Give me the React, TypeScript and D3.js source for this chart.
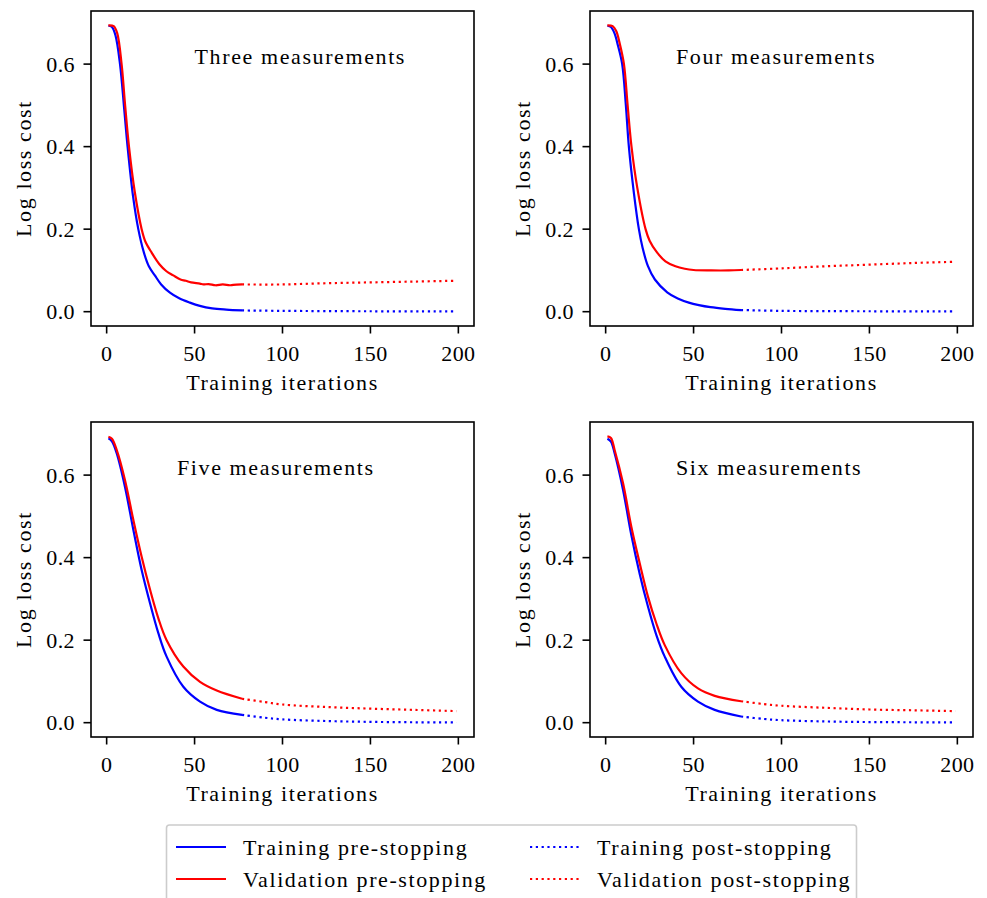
import React from "react";
import * as d3 from "d3";

const xTicks = [0, 50, 100, 150, 200];
const yTicks = [0, 0.2, 0.4, 0.6];

const panelTitles = ["Three measurements", "Four measurements", "Five measurements", "Six measurements"];
const titleIters = [50, 40, 40, 40];

const legendLabels = [
  "Training pre-stopping",
  "Validation pre-stopping",
  "Training post-stopping",
  "Validation post-stopping",
];

// [iteration, log loss]
const threeTrainPre = [
  [1, 0.693], [3, 0.69], [5, 0.67], [7.6, 0.6], [10, 0.49], [11.9, 0.4], [15, 0.28], [18, 0.2],
  [21.2, 0.143], [24, 0.11], [27.4, 0.088], [31, 0.066], [36, 0.046], [41, 0.033], [47.3, 0.022],
  [53, 0.014], [60, 0.008], [68, 0.005], [77, 0.003],
];
const threeTrainPost = [[77, 0.003], [100, 0.002], [150, 0.001], [199, 0.0005]];
const threeValPre = [
  [1, 0.694], [4, 0.692], [6, 0.675], [8.5, 0.6], [10.5, 0.5], [12.7, 0.4], [16, 0.29], [19.9, 0.2],
  [22, 0.17], [25.6, 0.143], [30, 0.115], [34, 0.098], [37.9, 0.088], [42, 0.078], [45, 0.075],
  [48, 0.071], [53, 0.068], [55, 0.066], [58, 0.067], [62, 0.064], [66, 0.066], [70, 0.064],
  [72, 0.065], [77, 0.066],
];
const threeValPost = [[77, 0.066], [100, 0.066], [125, 0.069], [150, 0.071], [175, 0.073], [199, 0.075]];

const fourTrainPre = [
  [1, 0.693], [3, 0.69], [5, 0.675], [7, 0.645], [9.4, 0.6], [11.5, 0.5], [13.2, 0.4], [16, 0.29],
  [18.9, 0.2], [21, 0.155], [24, 0.111], [28, 0.078], [35, 0.047], [41, 0.032], [47.3, 0.022],
  [53, 0.016], [59.6, 0.011], [68, 0.007], [77, 0.004],
];
const fourTrainPost = [[77, 0.004], [100, 0.002], [150, 0.001], [199, 0.0005]];
const fourValPre = [
  [1, 0.694], [4, 0.692], [6, 0.68], [8, 0.65], [10.4, 0.6], [12.5, 0.5], [14.7, 0.4], [18, 0.3],
  [22.7, 0.2], [25, 0.172], [29.3, 0.143], [34, 0.122], [39.7, 0.11], [45, 0.104], [50, 0.101],
  [60, 0.1], [70, 0.1], [77, 0.101],
];
const fourValPost = [[77, 0.101], [100, 0.105], [125, 0.11], [150, 0.114], [175, 0.118], [199, 0.121]];

const fiveTrainPre = [
  [1, 0.689], [3, 0.682], [5.7, 0.653], [10.4, 0.572], [15.2, 0.467], [19.9, 0.37], [24.7, 0.289],
  [29.4, 0.217], [34.1, 0.16], [43.6, 0.087], [53.1, 0.051], [62.6, 0.031], [77, 0.019],
];
const fiveTrainPost = [[77, 0.019], [90, 0.012], [100, 0.008], [125, 0.004], [150, 0.002], [175, 0.001], [199, 0.0005]];
const fiveValPre = [
  [1, 0.693], [3, 0.688], [5.7, 0.661], [10.4, 0.588], [15.2, 0.491], [19.9, 0.402], [24.7, 0.322],
  [29.4, 0.253], [34.1, 0.2], [43.6, 0.136], [53.1, 0.099], [62.6, 0.078], [77, 0.058],
];
const fiveValPost = [[77, 0.058], [90, 0.05], [100, 0.044], [125, 0.038], [150, 0.034], [175, 0.031], [199, 0.028]];

const sixTrainPre = [
  [1, 0.688], [3, 0.681], [5.1, 0.653], [9.9, 0.564], [14.6, 0.455], [19.4, 0.36], [24.1, 0.281],
  [28.8, 0.213], [33.6, 0.16], [43, 0.087], [52.5, 0.051], [62, 0.031], [77, 0.015],
];
const sixTrainPost = [[77, 0.015], [90, 0.009], [100, 0.006], [125, 0.003], [150, 0.0015], [175, 0.001], [199, 0.0005]];
const sixValPre = [
  [1, 0.694], [3, 0.69], [5.1, 0.661], [9.9, 0.58], [14.6, 0.475], [19.4, 0.386], [24.1, 0.305],
  [28.8, 0.241], [33.6, 0.188], [43, 0.12], [52.5, 0.083], [62, 0.065], [77, 0.052],
];
const sixValPost = [[77, 0.052], [90, 0.045], [100, 0.041], [125, 0.036], [150, 0.032], [175, 0.03], [199, 0.028]];

const panelSeries = [
  [threeTrainPre, threeValPre, threeTrainPost, threeValPost],
  [fourTrainPre, fourValPre, fourTrainPost, fourValPost],
  [fiveTrainPre, fiveValPre, fiveTrainPost, fiveValPost],
  [sixTrainPre, sixValPre, sixTrainPost, sixValPost],
];

const W = 987;
const H = 898;
const font = "'Liberation Serif', 'Times New Roman', serif";
const fs = 22;
const wordSpacing = 1.6;
const axW = 383;
const axH = 315;
const origins = [
  [91, 11],
  [590, 11],
  [91, 422],
  [590, 422],
];
const seriesColor = ["#0000ff", "#ff0000", "#0000ff", "#ff0000"];
const dotted = "2.2,3.6";

function Panel({ idx }: { idx: number }) {
  const [ox, oy] = origins[idx];
  const x = d3.scaleLinear().domain([-8.9, 208.9]).range([0, axW]);
  const y = d3.scaleLinear().domain([-0.0347, 0.7287]).range([axH, 0]);
  const line = d3
    .line<number[]>()
    .x((d) => x(d[0]))
    .y((d) => y(d[1]))
    .curve(d3.curveCatmullRom.alpha(0.5));

  return (
    <g transform={`translate(${ox},${oy})`}>
      {panelSeries[idx].map((s, i) => (
        <path
          key={i}
          d={line(s) || ""}
          fill="none"
          stroke={seriesColor[i]}
          strokeWidth={2.2}
          strokeDasharray={i >= 2 ? dotted : undefined}
        />
      ))}
      <text
        x={x(titleIters[idx])}
        y={y(0.6)}
        fontFamily={font}
        fontSize={fs}
        letterSpacing={wordSpacing}
      >
        {panelTitles[idx]}
      </text>
      <rect x={0} y={0} width={axW} height={axH} fill="none" stroke="#000" strokeWidth={1.6} />
      {xTicks.map((t) => (
        <g key={t} transform={`translate(${x(t)},${axH})`}>
          <line y1={0} y2={7.5} stroke="#000" strokeWidth={1.6} />
          <text y={35} textAnchor="middle" fontFamily={font} fontSize={fs} letterSpacing={0.4}>
            {t}
          </text>
        </g>
      ))}
      {yTicks.map((t) => (
        <g key={t} transform={`translate(0,${y(t)})`}>
          <line x1={0} x2={-7.5} stroke="#000" strokeWidth={1.6} />
          <text x={-16} y={7.5} textAnchor="end" fontFamily={font} fontSize={fs} letterSpacing={0.4}>
            {t.toFixed(1)}
          </text>
        </g>
      ))}
      <text
        x={axW / 2}
        y={axH + 64}
        textAnchor="middle"
        fontFamily={font}
        fontSize={fs}
        letterSpacing={wordSpacing}
      >
        Training iterations
      </text>
      <text
        transform={`translate(-60,${axH / 2}) rotate(-90)`}
        textAnchor="middle"
        fontFamily={font}
        fontSize={fs}
        letterSpacing={wordSpacing}
      >
        Log loss cost
      </text>
    </g>
  );
}

function Legend() {
  const cols = [176, 530];
  const rows = [847, 879];
  return (
    <g>
      <rect x={166.5} y={825} width={690} height={90} fill="#fff" stroke="#cccccc" strokeWidth={1.6} rx={3} />
      {legendLabels.map((lab, i) => {
        const cx = cols[Math.floor(i / 2)];
        const cy = rows[i % 2];
        return (
          <g key={lab}>
            <line
              x1={cx}
              x2={cx + 50}
              y1={cy}
              y2={cy}
              stroke={seriesColor[i]}
              strokeWidth={2.2}
              strokeDasharray={i >= 2 ? dotted : undefined}
            />
            <text x={cx + 67} y={cy + 7.5} fontFamily={font} fontSize={fs} letterSpacing={wordSpacing}>
              {lab}
            </text>
          </g>
        );
      })}
    </g>
  );
}

export default function App() {
  return (
    <svg
      width={W}
      height={H}
      viewBox={`0 0 ${W} ${H}`}
      style={{ position: "absolute", left: 0, top: 0, background: "#fff" }}
    >
      <rect width={W} height={H} fill="#fff" />
      {[0, 1, 2, 3].map((i) => (
        <Panel key={i} idx={i} />
      ))}
      <Legend />
    </svg>
  );
}
